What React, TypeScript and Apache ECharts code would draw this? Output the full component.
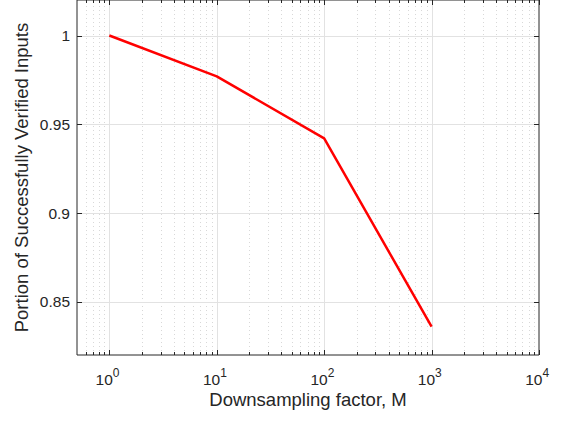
import React, { useEffect, useRef } from "react";
import * as echarts from "echarts";

// ---- data ----
const factors = [1, 10, 100, 1000];
const portion = [1.0, 0.977, 0.942, 0.836];

const xMin = 0.5;
const xMax = 10000;
const yMin = 0.82;
const yMax = 1.02;

const xMajorExponents = [0, 1, 2, 3, 4];
const xMinorMantissas = [2, 3, 4, 5, 6, 7, 8, 9];
const xMinorDecades = [-1, 0, 1, 2, 3];
const yTicks = [0.85, 0.9, 0.95, 1];
const yTickLabels = ["0.85", "0.9", "0.95", "1"];

const xTitle = "Downsampling factor, M";
const yTitle = "Portion of Successfully Verified Inputs";

const FONT = "'Liberation Sans', Arial, Helvetica, sans-serif";
const TXT = "#262626";
const AXIS = "#262626";
const GRID_MAJOR = "#e2e2e2";
const GRID_MINOR = "#d8d8d8";

export default function App() {
  const ref = useRef<HTMLDivElement>(null);

  useEffect(() => {
    if (!ref.current) return;
    const chart = echarts.init(ref.current, null, { renderer: "svg" });

    const lxMin = Math.log10(xMin);
    const lxMax = Math.log10(xMax);

    // vertical decorations: [log10(x), isMajor, exponent]
    const vData: number[][] = [];
    xMajorExponents.forEach((e) => vData.push([e, 1, e]));
    xMinorDecades.forEach((d) => {
      xMinorMantissas.forEach((m) => {
        const v = m * Math.pow(10, d);
        if (v > xMin * 1.0001 && v < xMax * 0.9999) vData.push([Math.log10(v), 0, 0]);
      });
    });

    const hData = yTicks.map((v, i) => [v, i]);

    const lineData = factors.map((f, i) => [Math.log10(f), portion[i]]);

    chart.setOption({
      animation: false,
      backgroundColor: "#ffffff",
      grid: {
        left: 77,
        right: 25,
        top: -1,
        bottom: 66,
        show: true,
        borderColor: AXIS,
        borderWidth: 1,
        backgroundColor: "#ffffff",
      },
      xAxis: {
        type: "value",
        min: lxMin,
        max: lxMax,
        name: xTitle,
        nameLocation: "middle",
        nameGap: 35,
        nameTextStyle: { color: TXT, fontSize: 18.5, fontFamily: FONT },
        axisLine: { show: false },
        axisTick: { show: false },
        axisLabel: { show: false },
        splitLine: { show: false },
      },
      yAxis: {
        type: "value",
        min: yMin,
        max: yMax,
        name: yTitle,
        nameLocation: "middle",
        nameGap: 46,
        nameRotate: 90,
        nameTextStyle: { color: TXT, fontSize: 18.5, fontFamily: FONT },
        axisLine: { show: false },
        axisTick: { show: false },
        axisLabel: { show: false },
        splitLine: { show: false },
      },
      series: [
        {
          type: "custom",
          z: 1,
          silent: true,
          data: vData,
          encode: { x: 0 },
          renderItem: (_p: any, api: any) => {
            const xv = api.value(0);
            const major = api.value(1) === 1;
            const exp = api.value(2);
            const bot = api.coord([xv, yMin]);
            const top = api.coord([xv, yMax]);
            const x = Math.round(bot[0]) + 0.5;
            const children: any[] = [];
            const atEdge = Math.abs(xv - lxMax) < 1e-6;
            if (!atEdge) {
              children.push({
                type: "line",
                shape: { x1: x, y1: bot[1], x2: x, y2: top[1] },
                style: major
                  ? { stroke: GRID_MAJOR, lineWidth: 1 }
                  : { stroke: GRID_MINOR, lineWidth: 1, lineDash: [1, 3] },
              });
            }
            const len = major ? 5 : 3;
            children.push({
              type: "line",
              z2: 10,
              shape: { x1: x, y1: bot[1], x2: x, y2: bot[1] - len },
              style: { stroke: AXIS, lineWidth: 1 },
            });
            children.push({
              type: "line",
              z2: 10,
              shape: { x1: x, y1: top[1], x2: x, y2: top[1] + len },
              style: { stroke: AXIS, lineWidth: 1 },
            });
            if (major) {
              children.push({
                type: "text",
                x: bot[0] + 3.5,
                y: bot[1] + 24,
                style: {
                  text: "10",
                  fill: TXT,
                  fontSize: 15.5,
                  fontFamily: FONT,
                  align: "right",
                  verticalAlign: "middle",
                },
              });
              children.push({
                type: "text",
                x: bot[0] + 3.5,
                y: bot[1] + 17.5,
                style: {
                  text: String(exp),
                  fill: TXT,
                  fontSize: 12,
                  fontFamily: FONT,
                  align: "left",
                  verticalAlign: "middle",
                },
              });
            }
            return { type: "group", children };
          },
        },
        {
          type: "custom",
          z: 1,
          silent: true,
          data: hData,
          encode: { y: 0 },
          renderItem: (_p: any, api: any) => {
            const yv = api.value(0);
            const idx = api.value(1);
            const l = api.coord([lxMin, yv]);
            const r = api.coord([lxMax, yv]);
            const y = Math.round(l[1]) + 0.5;
            return {
              type: "group",
              children: [
                {
                  type: "line",
                  shape: { x1: l[0], y1: y, x2: r[0], y2: y },
                  style: { stroke: GRID_MAJOR, lineWidth: 1 },
                },
                {
                  type: "line",
                  z2: 10,
                  shape: { x1: l[0], y1: y, x2: l[0] + 5, y2: y },
                  style: { stroke: AXIS, lineWidth: 1 },
                },
                {
                  type: "line",
                  z2: 10,
                  shape: { x1: r[0], y1: y, x2: r[0] - 5, y2: y },
                  style: { stroke: AXIS, lineWidth: 1 },
                },
                {
                  type: "text",
                  x: l[0] - 7,
                  y: l[1],
                  style: {
                    text: yTickLabels[idx],
                    fill: TXT,
                    fontSize: 15.5,
                    fontFamily: FONT,
                    align: "right",
                    verticalAlign: "middle",
                  },
                },
              ],
            };
          },
        },
        {
          type: "line",
          z: 5,
          data: lineData,
          showSymbol: false,
          symbol: "none",
          clip: false,
          lineStyle: { color: "#ff0000", width: 2.5 },
        },
      ],
    });

    return () => chart.dispose();
  }, []);

  return (
    <div
      ref={ref}
      style={{ position: "absolute", left: 0, top: 0, width: 564, height: 421 }}
    />
  );
}
